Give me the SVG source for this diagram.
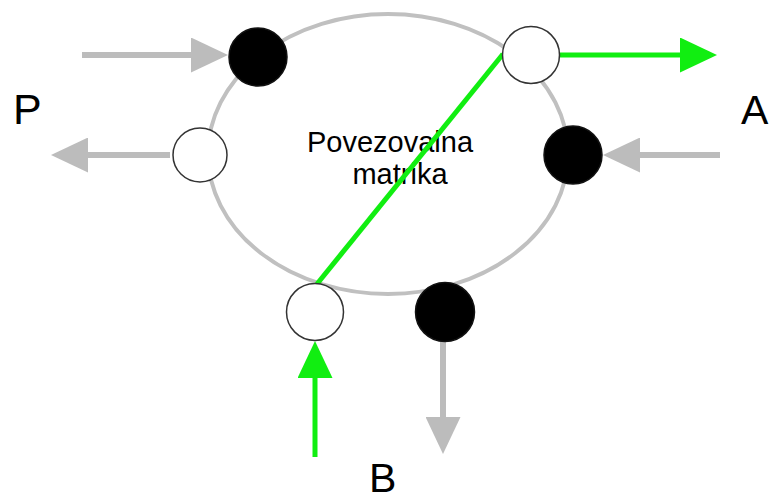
<svg xmlns="http://www.w3.org/2000/svg" width="774" height="502" viewBox="0 0 774 502">
<defs>
<style>
.ring{fill:none;stroke:#c0c0c0;stroke-width:4}
.black{fill:#000;stroke:#111;stroke-width:1.5}
.white{fill:#fff;stroke:#333;stroke-width:1.5}
.g{stroke:#bcbcbc;stroke-width:6;fill:none}
.gr{stroke:#11ee11;stroke-width:5;fill:none}
.lbl{font-family:"Liberation Sans",Arial,sans-serif;fill:#000}
</style>
<marker id="hg" markerUnits="userSpaceOnUse" viewBox="0 0 37 35" refX="0" refY="17.5" markerWidth="37" markerHeight="35" orient="auto"><path d="M0,0 L37,17.5 L0,35 Z" fill="#bcbcbc"/></marker>
<marker id="hgr" markerUnits="userSpaceOnUse" viewBox="0 0 37 35" refX="0" refY="17.5" markerWidth="37" markerHeight="35" orient="auto"><path d="M0,0 L37,17.5 L0,35 Z" fill="#11ee11"/></marker>
</defs>
<rect width="774" height="502" fill="#fff"/>
<g id="matrix">
<ellipse class="ring" cx="388" cy="154" rx="180" ry="140"/>
<text class="lbl" x="390" y="152" font-size="29" text-anchor="middle">Povezovalna</text>
<text class="lbl" x="400" y="184" font-size="29" text-anchor="middle">matrika</text>
</g>
<g id="connectors">
<line class="gr" x1="317" y1="284" x2="503" y2="54" stroke-width="4"/>
<line class="g" x1="82" y1="55" x2="191" y2="55" marker-end="url(#hg)"/>
<line class="g" x1="170" y1="155" x2="88" y2="155" marker-end="url(#hg)"/>
<line class="g" x1="720" y1="155" x2="640" y2="155" marker-end="url(#hg)"/>
<line class="g" x1="443" y1="338" x2="443" y2="417" marker-end="url(#hg)"/>
<line class="gr" x1="560" y1="55" x2="680" y2="55" marker-end="url(#hgr)"/>
<line class="gr" x1="315" y1="457" x2="315" y2="378" marker-end="url(#hgr)"/>
</g>
<g id="node-in-p"><circle class="black" cx="258" cy="57" r="29"/></g>
<g id="node-out-p"><circle class="white" cx="200" cy="155" r="27"/></g>
<g id="node-out-a"><circle class="white" cx="531" cy="55" r="28.5"/></g>
<g id="node-in-a"><circle class="black" cx="573" cy="155" r="29"/></g>
<g id="node-in-b"><circle class="white" cx="315" cy="312" r="28.5"/></g>
<g id="node-out-b"><circle class="black" cx="445" cy="312" r="29.5"/></g>
<g id="labels">
<text class="lbl" x="13" y="124" font-size="43">P</text>
<text class="lbl" x="741" y="124" font-size="41">A</text>
<text class="lbl" x="369" y="492" font-size="41">B</text>
</g>
</svg>
